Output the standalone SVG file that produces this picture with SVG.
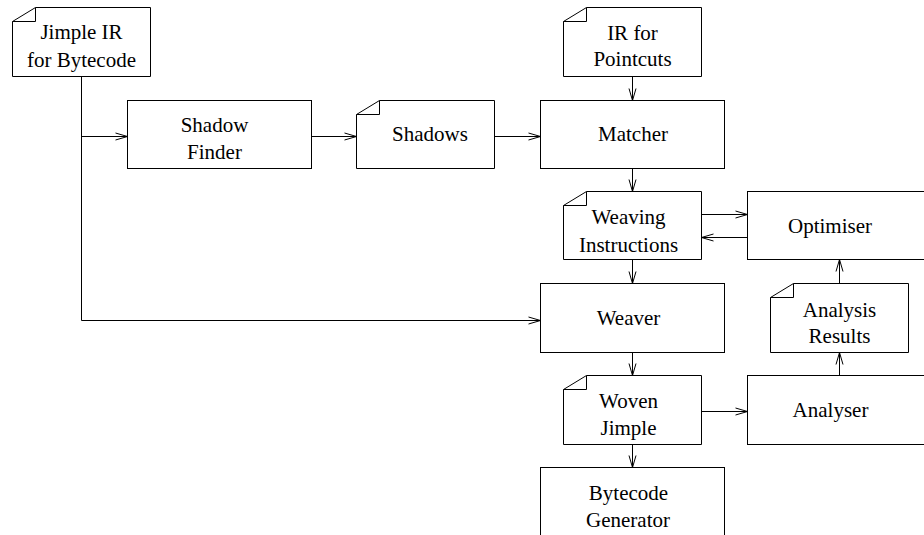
<svg xmlns="http://www.w3.org/2000/svg" width="924" height="535" viewBox="0 0 924 535">
<style>
.n{fill:#fff;stroke:#000;stroke-width:1}
.f{fill:none;stroke:#000;stroke-width:1}
.c{fill:none;stroke:#000;stroke-width:1;marker-end:url(#a)}
text{font-size:21px;fill:#000;text-anchor:middle}
</style>
<defs>
<marker id="a" markerUnits="userSpaceOnUse" markerWidth="14" markerHeight="10" refX="12" refY="4" orient="auto" overflow="visible">
<path d="M0,0.5 L12,4 L0,7.5" fill="none" stroke="#000" stroke-width="1"/>
</marker>
</defs>
<rect width="924" height="535" fill="#fff"/>
<g id="connectors">
<path class="c" d="M81.5,76.5 V320.5 H540.5"/>
<path class="c" d="M81.5,136.5 H127.5"/>
<path class="c" d="M311.5,136.5 H356.5"/>
<path class="c" d="M494.5,136.5 H540.5"/>
<path class="c" d="M632.5,76.5 V100.5"/>
<path class="c" d="M632.5,168.5 V191.5"/>
<path class="c" d="M701.5,214.5 H747.5"/>
<path class="c" d="M747.5,237.5 H701.5"/>
<path class="c" d="M632.5,259.5 V283.5"/>
<path class="c" d="M632.5,352.5 V375.5"/>
<path class="c" d="M632.5,444.5 V467.5"/>
<path class="c" d="M701.5,411.5 H747.5"/>
<path class="c" d="M839.5,375.5 V352.5"/>
<path class="c" d="M839.5,283.5 V259.5"/>
</g>
<g font-family="'Liberation Serif', 'DejaVu Serif', serif">
<g id="jimple-ir">
<path class="n" d="M12.5,21.5 L35.5,7.5 H150.5 V76.5 H12.5 Z"/>
<path class="f" d="M12.5,21.5 H35.5 V7.5"/>
<text x="81.5" y="39">Jimple IR</text>
<text x="81.5" y="66.5">for Bytecode</text>
</g>
<g id="ir-pointcuts">
<path class="n" d="M563.5,21.5 L586.5,7.5 H701.5 V76.5 H563.5 Z"/>
<path class="f" d="M563.5,21.5 H586.5 V7.5"/>
<text x="632.5" y="39.5">IR for</text>
<text x="632.5" y="66">Pointcuts</text>
</g>
<g id="shadow-finder">
<rect class="n" x="127.5" y="100.5" width="184" height="68"/>
<text x="214.5" y="131.5">Shadow</text>
<text x="214.5" y="159">Finder</text>
</g>
<g id="shadows">
<path class="n" d="M356.5,114.5 L379.5,100.5 H494.5 V168.5 H356.5 Z"/>
<path class="f" d="M356.5,114.5 H379.5 V100.5"/>
<text x="430" y="140.5">Shadows</text>
</g>
<g id="matcher">
<rect class="n" x="540.5" y="100.5" width="184" height="68"/>
<text x="633" y="140.5">Matcher</text>
</g>
<g id="weaving-instructions">
<path class="n" d="M563.5,205.5 L586.5,191.5 H701.5 V259.5 H563.5 Z"/>
<path class="f" d="M563.5,205.5 H586.5 V191.5"/>
<text x="628.5" y="224">Weaving</text>
<text x="628.5" y="251.5">Instructions</text>
</g>
<g id="optimiser">
<rect class="n" x="747.5" y="191.5" width="200" height="68"/>
<text x="830" y="233">Optimiser</text>
</g>
<g id="weaver">
<rect class="n" x="540.5" y="283.5" width="184" height="69"/>
<text x="628.5" y="325">Weaver</text>
</g>
<g id="analysis-results">
<path class="n" d="M770.5,297.5 L793.5,283.5 H908.5 V352.5 H770.5 Z"/>
<path class="f" d="M770.5,297.5 H793.5 V283.5"/>
<text x="839.5" y="316.5">Analysis</text>
<text x="839.5" y="342.5">Results</text>
</g>
<g id="woven-jimple">
<path class="n" d="M563.5,389.5 L586.5,375.5 H701.5 V444.5 H563.5 Z"/>
<path class="f" d="M563.5,389.5 H586.5 V375.5"/>
<text x="628.5" y="408">Woven</text>
<text x="628.5" y="435">Jimple</text>
</g>
<g id="analyser">
<rect class="n" x="747.5" y="375.5" width="200" height="69"/>
<text x="830.5" y="417">Analyser</text>
</g>
<g id="bytecode-generator">
<rect class="n" x="540.5" y="467.5" width="184" height="100"/>
<text x="628.5" y="500">Bytecode</text>
<text x="628" y="526.5">Generator</text>
</g>
</g>
</svg>
